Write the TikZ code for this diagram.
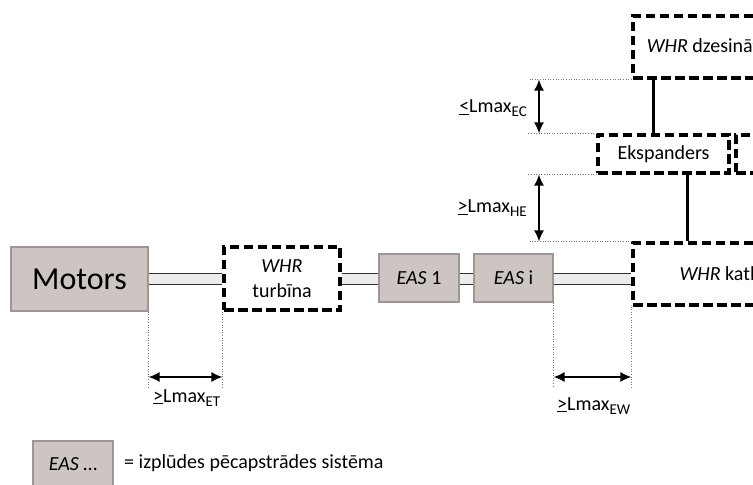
\documentclass[tikz,border=0pt]{standalone}
\usepackage{fontspec}
\setmainfont{Carlito}
\usetikzlibrary{arrows.meta}
\definecolor{blockfill}{RGB}{204,197,194}
\definecolor{blockedge}{RGB}{158,150,148}
\definecolor{pipefill}{RGB}{236,236,236}
\definecolor{pipeedge}{RGB}{50,50,50}
\definecolor{guide}{RGB}{120,120,120}
% limit label: underlined relation sign, "Lmax" and a lowered index
\newcommand\lmaxlabel[2]{\underline{#1}Lmax\raisebox{-4bp}{\fontsize{15bp}{15bp}\selectfont #2}}

\begin{document}
\begin{tikzpicture}[x=1bp,y=-1bp,
  font=\fontsize{20bp}{25bp}\selectfont,
  block/.style={draw=blockedge, fill=blockfill, line width=1.2bp, inner sep=0pt, align=center},
  whrbox/.style={draw=black, fill=white, line width=3.2bp, dash pattern=on 9.5bp off 4.5bp, inner sep=0pt, align=center},
  pipe/.style={draw=pipeedge, line width=1.4bp, double=pipefill, double distance=9bp},
  link/.style={draw=black, line width=3bp},
  guideline/.style={draw=guide, line width=0.6bp, dotted},
  dim/.style={draw=black, line width=1.4bp, {Latex[length=11bp,width=10bp]}-{Latex[length=11bp,width=10bp]}},
  dimlabel/.style={inner sep=0pt},
]
\useasboundingbox (0,0) rectangle (753,485);
\clip (0,0) rectangle (753,485);

% exhaust line
\node[block, minimum width=137bp, minimum height=64bp, font=\fontsize{32bp}{36bp}\selectfont] (motors) at (79.5,279) {Motors};
\node[whrbox, minimum width=116bp, minimum height=63bp] (turb) at (282,278.5) {\textit{WHR}\\turbīna};
\node[block, minimum width=80bp, minimum height=48bp] (eas1) at (419,278) {\textit{EAS} 1};
\node[block, minimum width=79bp, minimum height=48bp] (easi) at (513.5,278) {\textit{EAS} i};
\node[whrbox, minimum width=176bp, minimum height=62bp] (kat) at (721,274) {\textit{WHR} katls};

% WHR circuit above the boiler
\node[whrbox, minimum width=162bp, minimum height=62bp] (dzes) at (714,47) {\textit{WHR} dzesinātājs};
\node[whrbox, minimum width=131bp, minimum height=38bp] (eks) at (663.5,154) {Ekspanders};
\node[whrbox, minimum width=100bp, minimum height=38bp] (gen) at (786,154) {};

% exhaust pipes
\draw[pipe] (motors.east) -- (turb.west |- motors.east);
\draw[pipe] (turb.east |- motors.east) -- (eas1.west |- motors.east);
\draw[pipe] (eas1.east |- motors.east) -- (easi.west |- motors.east);
\draw[pipe] (easi.east |- motors.east) -- (kat.west |- motors.east);

% circuit links
\draw[link] ([xshift=-10.5bp]eks.north) -- ([xshift=-10.5bp]eks.north |- dzes.south);
\draw[link] ([xshift=23.5bp]eks.south) -- ([xshift=23.5bp]eks.south |- kat.north);

% vertical distances
\coordinate (gx) at (528,0);
\coordinate (ax) at (539,0);
\draw[guideline] (dzes.south west) -- (gx |- dzes.south west);
\draw[guideline] (eks.north west) -- (gx |- eks.north west);
\draw[guideline] (eks.south west) -- (gx |- eks.south west);
\draw[guideline] (kat.north west) -- (gx |- kat.north west);
\draw[dim] (ax |- dzes.south) -- (ax |- eks.north);
\draw[dim] (ax |- eks.south) -- (ax |- kat.north);
\node[dimlabel, anchor=base east] (lec) at (527,113) {\lmaxlabel{<}{EC}};
\node[dimlabel, anchor=base east] (lhe) at (527,213) {\lmaxlabel{>}{HE}};

% horizontal distances
\coordinate (gy) at (0,388);
\coordinate (ay) at (0,377);
\draw[guideline] (motors.south east) -- (motors.south east |- gy);
\draw[guideline] (turb.south west) -- (turb.south west |- gy);
\draw[guideline] (easi.south east) -- (easi.south east |- gy);
\draw[guideline] (kat.south west) -- (kat.south west |- gy);
\draw[dim] (motors.east |- ay) -- (turb.west |- ay);
\draw[dim] (easi.east |- ay) -- (kat.west |- ay);
\node[dimlabel, anchor=base west] (let) at (153,402) {\lmaxlabel{>}{ET}};
\node[dimlabel, anchor=base west] (lew) at (557,410) {\lmaxlabel{>}{EW}};

% legend
\node[block, minimum width=80bp, minimum height=50bp] (legend) at (73,466) {\raisebox{3bp}{\textit{EAS} …}};
\node[anchor=west, inner sep=0pt] (legendtext) at (124,463) {= izplūdes pēcapstrādes sistēma};
\end{tikzpicture}
\end{document}
